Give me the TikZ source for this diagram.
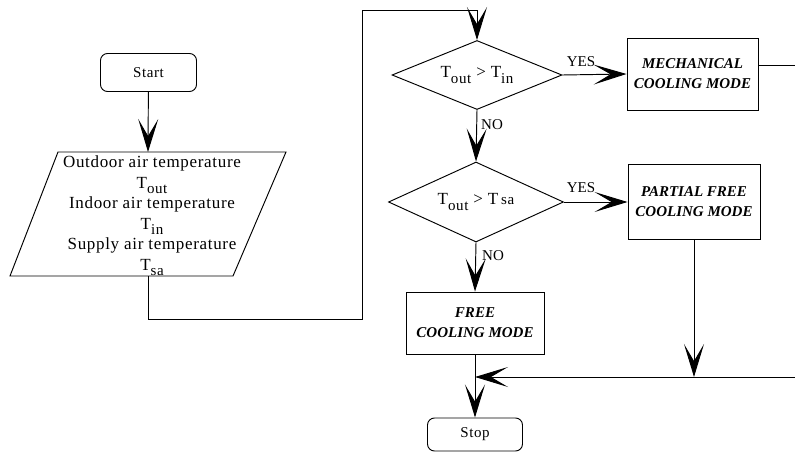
\documentclass[tikz,border=0pt]{standalone}
\usepackage{fontspec}
\setmainfont{Liberation Serif}
\newfontfamily\spaced{Liberation Serif}[LetterSpace=4]
\usetikzlibrary{shapes.geometric,arrows.meta,calc}
\newcommand\lowsub[1]{\raisebox{-0.32em}{\fontsize{15}{15}\selectfont #1}}
\begin{document}
\begin{tikzpicture}[x=1pt,y=-1pt,line width=0.95pt,
  arr/.style={-{Stealth[length=33pt,width=20pt,inset=17pt]}},
  term/.style={draw,rounded corners=7pt,minimum width=96pt,minimum height=38pt,inner sep=0pt,font=\spaced\fontsize{15}{18}\selectfont},
  mode/.style={draw,minimum width=131pt,minimum height=72pt,inner sep=0pt,align=center,font=\fontsize{15}{20}\selectfont\bfseries\itshape},
  dec/.style={draw,diamond,inner sep=0pt,font=\spaced\fontsize{17}{18}\selectfont},
  lab/.style={font=\fontsize{15}{15}\selectfont,inner sep=0pt}]
\useasboundingbox (0,0) rectangle (795,452);

\node[term] (start) at (148.5,72.5) {Start};

\coordinate (ptl) at (58,152);
\coordinate (ptr) at (286,152);
\coordinate (pbr) at (233,276);
\coordinate (pbl) at (10,276);
\coordinate (pn) at (148,152);
\coordinate (ps) at (148,276);
\draw (ptl) -- (ptr) -- (pbr) -- (pbl) -- cycle;
\node[align=center,inner sep=0pt,font=\spaced\fontsize{17}{20.5}\selectfont] (para) at (152,216)
  {Outdoor air temperature\\T\lowsub{out}\\Indoor air temperature\\T\lowsub{in}\\Supply air temperature\\T\lowsub{sa}};

\node[dec,minimum width=170pt,minimum height=69pt,aspect=2.46] (d1) at (477,75) {T\lowsub{out} > T\lowsub{in}};
\node[dec,minimum width=175pt,minimum height=80pt,aspect=2.19] (d2) at (476,202) {T\lowsub{out} > T\,{\fontsize{15}{15}\selectfont sa}};

\node[mode] (mech) at (692.5,74) {MECHANICAL\\COOLING MODE};
\node[mode,minimum width=132pt,minimum height=75pt] (partial) at (694,201.5) {PARTIAL FREE\\COOLING MODE};
\node[mode,minimum width=138pt,minimum height=62pt] (free) at (475,323) {FREE\\COOLING MODE};
\node[term,minimum width=95pt,minimum height=33pt] (stop) at (475,434.5) {Stop};

\coordinate (c1) at (148,319);
\coordinate (c2) at (362,319);
\coordinate (c3) at (362,10);
\coordinate (c4) at (477,10);
\coordinate (mout) at (795,65);
\coordinate (rin) at (795,377);
\coordinate (j1) at (475,377);
\coordinate (j2) at (694,377);

\draw[arr] (start) -- (pn);
\draw[arr] (ps) -- (c1) -- (c2) -- (c3) -- (c4) -- (d1.north);
\draw[arr] (d1.east) -- (mech.west);
\draw[arr] (d1.south) -- (d2.north);
\draw[arr] (d2.east) -- (partial.west |- d2.east);
\draw[arr] (d2.south) -- (free.north);
\draw (mech.east |- mout) -- (mout);
\draw[arr] (partial.south) -- (j2);
\draw[arr] (rin) -- (j1);
\draw[arr] (free.south) -- (stop.north);

\node[lab] (y1) at (581,62) {YES};
\node[lab] (y2) at (581,188) {YES};
\node[lab] (n1) at (492,125) {NO};
\node[lab] (n2) at (493,256) {NO};
\end{tikzpicture}
\end{document}
